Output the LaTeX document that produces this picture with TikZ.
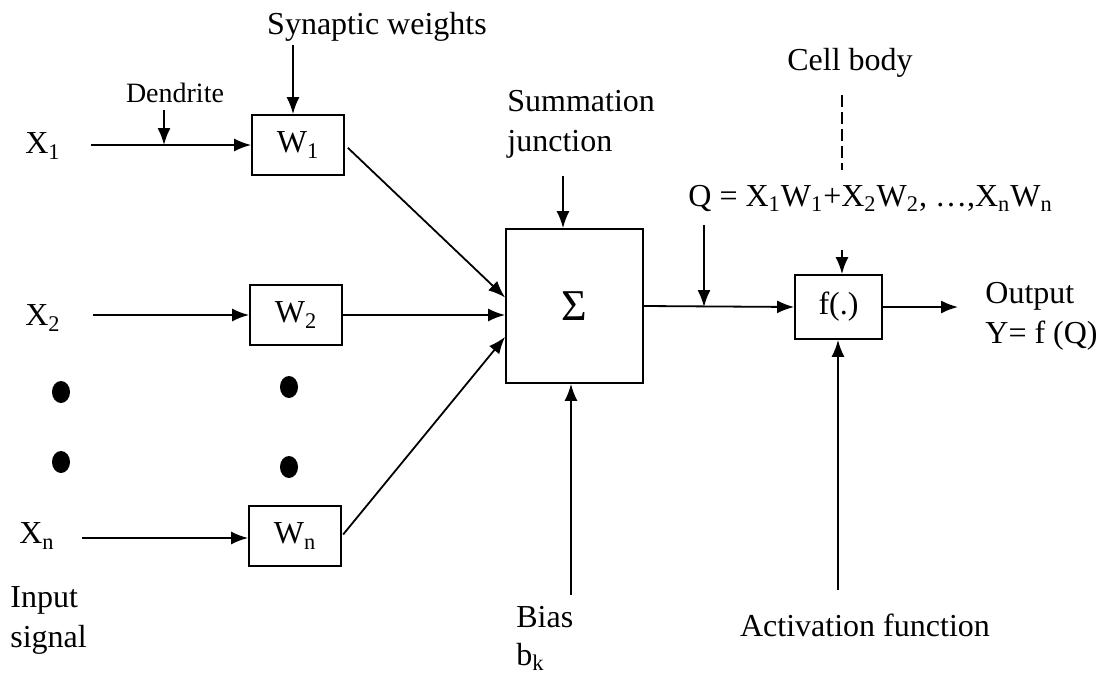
\documentclass[tikz,border=0pt]{standalone}
\usepackage{fontspec}
\setmainfont{Liberation Serif}
\usetikzlibrary{arrows.meta, shapes.geometric}

\begin{document}
\begin{tikzpicture}[x=0.5pt, y=-0.5pt,
  txt/.style={font=\fontsize{16}{20}\selectfont, inner sep=0pt, align=left},
  box/.style={draw, line width=0.9pt, font=\fontsize{16}{20}\selectfont, minimum width=46pt, minimum height=30pt, inner sep=0pt},
  arr/.style={->, line width=0.9pt, >={Latex[length=8.5pt,width=6.5pt]}},
  dotmark/.style={ellipse, fill, inner sep=0pt, minimum width=9pt, minimum height=11pt}]
\useasboundingbox (0,0) rectangle (1100,675);
% Inputs and weights:
\node[txt] (x1) at (43,146) {X\textsubscript{1}};
\node[txt] (x2) at (43,318) {X\textsubscript{2}};
\node[txt] (xn) at (37,536) {X\textsubscript{n}};
\node[txt, anchor=west] (insig) at (10,620) {Input\\signal};
\node[box] (w1) at (298,145) {W\textsubscript{1}};
\node[box] (w2) at (296,315) {W\textsubscript{2}};
\node[box] (wn) at (295,536) {W\textsubscript{n}};
\node[txt] (syn) at (377,27) {Synaptic weights};
\node[txt, font=\fontsize{14}{17}\selectfont] (dend) at (175,93) {Dendrite};
\node[dotmark] (dl1) at (61,392) {};
\node[dotmark] (dl2) at (61,462) {};
\node[dotmark] (dw1) at (289,387) {};
\node[dotmark] (dw2) at (289,467) {};
\coordinate (in1) at (91,145);
\coordinate (in2) at (93,315);
\coordinate (inn) at (82,538);
\coordinate (dtop) at (164,110);
\coordinate (dbot) at (164,145);
\coordinate (synarr) at (293,45);
\draw[arr] (in1) -- (w1.west);
\draw[arr] (in2) -- (in2 -| w2.west);
\draw[arr] (inn) -- (inn -| wn.west);
\draw[arr] (dtop) -- (dbot);
\draw[arr] (synarr) -- (synarr |- w1.north);
% Summation junction:
\node[box, minimum width=68.5pt, minimum height=77pt, font=\fontsize{22}{24}\selectfont] (sum) at (574.5,306) {Σ};
\node[txt, anchor=west] (sumlbl) at (507,124) {Summation\\junction};
\coordinate (sumarr) at (563,176);
\draw[arr] (sumarr) -- (sumarr |- sum.north);
\draw[arr, shorten <=2pt] (w1.east) -- (sum.173);
\draw[arr] (w2.east) -- (w2.east -| sum.west);
\draw[arr, shorten <=1pt] (wn.east) -- (sum.204);
\node[txt, anchor=north west, font=\fontsize{16}{19}\selectfont] (bias) at (516,606) {Bias\\b\textsubscript{k}};
\coordinate (biasarr) at (571,595);
\draw[arr] (biasarr) -- (biasarr |- sum.south);
% Cell body and activation:
\node[box, minimum width=43.5pt, minimum height=32pt] (f) at (838.5,307) {f(.)};
\node[txt, anchor=west] (qeq) at (688,198) {Q = X\textsubscript{1}W\textsubscript{1}+X\textsubscript{2}W\textsubscript{2}, …,X\textsubscript{n}W\textsubscript{n}};
\node[txt] (cell) at (850,63) {Cell body};
\coordinate (ctop) at (842,95);
\coordinate (cbot) at (842,170);
\draw[line width=0.9pt, dash pattern=on 6pt off 2.5pt] (ctop) -- (cbot);
\coordinate (qarr) at (704,225);
\coordinate (farr) at (842,250);
\draw[arr] (sum.east) -- (f.west);
\draw[arr] (qarr) -- (qarr |- f.west);
\draw[arr] (farr) -- (farr |- f.north);
\coordinate (out) at (958,307);
\draw[arr] (f.east) -- (out);
\node[txt, anchor=west] (outlbl) at (985,316) {Output\\Y= f (Q)};
\node[txt] (act) at (865,625) {Activation function};
\coordinate (actarr) at (838,590);
\draw[arr] (actarr) -- (actarr |- f.south);
\end{tikzpicture}
\end{document}
